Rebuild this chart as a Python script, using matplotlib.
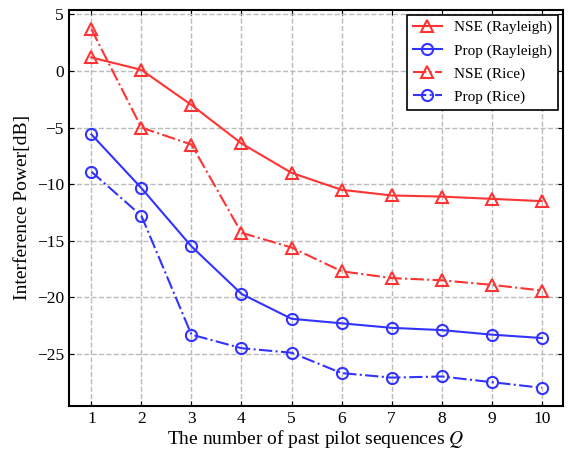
import matplotlib
matplotlib.use("Agg")
import matplotlib.pyplot as plt

Q = [1, 2, 3, 4, 5, 6, 7, 8, 9, 10]
nse_rayleigh = [1.2, 0.1, -3.0, -6.4, -9.0, -10.5, -11.0, -11.1, -11.3, -11.5]
prop_rayleigh = [-5.6, -10.35, -15.5, -19.7, -21.9, -22.3, -22.7, -22.9, -23.3, -23.6]
nse_rice = [3.7, -5.0, -6.5, -14.3, -15.6, -17.7, -18.3, -18.5, -18.9, -19.4]
prop_rice = [-8.9, -12.8, -23.3, -24.5, -24.9, -26.7, -27.1, -27.0, -27.5, -28.0]

plt.rcParams["font.family"] = "Liberation Serif"
plt.rcParams["mathtext.fontset"] = "stix"
plt.rcParams["font.size"] = 12

red = "#ff3333"
blue = "#3333ff"

fig, ax = plt.subplots(figsize=(5.69, 4.51), dpi=100)
ax.plot(Q, nse_rayleigh, "-", color=red, marker="^", markersize=8, markerfacecolor="none",
        markeredgewidth=1.5, lw=1.5, label="NSE (Rayleigh)")
ax.plot(Q, prop_rayleigh, "-", color=blue, marker="o", markersize=8, markerfacecolor="none",
        markeredgewidth=1.5, lw=1.5, label="Prop (Rayleigh)")
ax.plot(Q, nse_rice, "-.", color=red, marker="^", markersize=8, markerfacecolor="none",
        markeredgewidth=1.5, lw=1.5, label="NSE (Rice)")
ax.plot(Q, prop_rice, "-.", color=blue, marker="o", markersize=8, markerfacecolor="none",
        markeredgewidth=1.5, lw=1.5, label="Prop (Rice)")

ax.set_xlim(0.55, 10.42)
ax.set_ylim(-29.6, 5.4)
ax.set_xticks(Q)
ax.set_yticks([5, 0, -5, -10, -15, -20, -25])
ax.tick_params(direction="in", top=True, right=True, labelsize=12.5)
ax.grid(True, linestyle="--", color="#bbbbbb", lw=1)
for s in ax.spines.values():
    s.set_linewidth(1.5)
ax.set_xlabel("The number of past pilot sequences $Q$", fontsize=14, labelpad=1)
ax.set_ylabel("Interference Power[dB]", fontsize=14)
leg = ax.legend(loc="upper right", fancybox=False, edgecolor="black", framealpha=1,
                fontsize=11, handlelength=1.9, borderaxespad=0.3, labelspacing=0.6)
leg.get_frame().set_linewidth(1.2)

fig.subplots_adjust(left=0.121, right=0.989, top=0.978, bottom=0.1)
fig.savefig("out.png", dpi=100)
